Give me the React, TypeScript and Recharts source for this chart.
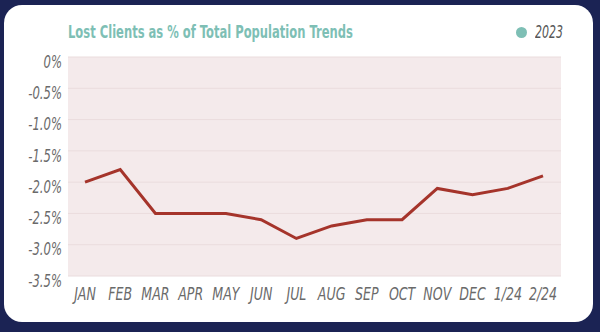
import { LineChart, Line, XAxis, YAxis, CartesianGrid } from 'recharts';

const months = ['JAN', 'FEB', 'MAR', 'APR', 'MAY', 'JUN', 'JUL', 'AUG', 'SEP', 'OCT', 'NOV', 'DEC', '1/24', '2/24'];
const lostPct2023 = [-2.0, -1.8, -2.5, -2.5, -2.5, -2.6, -2.9, -2.7, -2.6, -2.6, -2.1, -2.2, -2.1, -1.9];
const yTicks = [0, -0.5, -1, -1.5, -2, -2.5, -3, -3.5];

const FONT = "'DejaVu Sans Condensed', 'DejaVu Sans', sans-serif";
const TEAL = '#7ebfb5';
const LINE_RED = '#a5342b';
const LABEL_GREY = '#6a6a6a';

function formatPct(v: number): string {
  if (v === 0) return '0%';
  return `${v.toFixed(1)}%`;
}

// narrow italic labels, squeezed to look like the condensed face of the original
function YTick(props: { x?: number; y?: number; payload?: { value: number } }) {
  const { x = 0, y = 0, payload } = props;
  return (
    <text
      transform={`translate(${x},${y + 5}) scale(0.74,1)`}
      textAnchor="end"
      dominantBaseline="central"
      fill={LABEL_GREY}
      fontSize={17.5}
      fontStyle="italic"
      fontFamily={FONT}
      style={{ fontStretch: 'condensed' }}
    >
      {formatPct(payload?.value ?? 0)}
    </text>
  );
}

function XTick(props: { x?: number; y?: number; payload?: { value: string } }) {
  const { x = 0, y = 0, payload } = props;
  return (
    <text
      transform={`translate(${x},${y + 18}) scale(0.8,1)`}
      textAnchor="middle"
      dominantBaseline="central"
      fill={LABEL_GREY}
      fontSize={17.5}
      fontStyle="italic"
      fontFamily={FONT}
      style={{ fontStretch: 'condensed' }}
    >
      {payload?.value}
    </text>
  );
}

export default function App() {
  const data = months.map((m, i) => ({ month: m, value: lostPct2023[i] }));

  return (
    <div
      style={{
        position: 'fixed',
        left: 0,
        top: 0,
        width: 600,
        height: 332,
        background: '#1b2354',
        overflow: 'hidden',
        fontFamily: FONT,
        fontStretch: 'condensed',
      }}
    >
      {/* white card */}
      <div
        style={{
          position: 'absolute',
          left: 4,
          top: 5,
          width: 589,
          height: 317,
          background: '#ffffff',
          borderRadius: 18,
        }}
      />
      <div
        style={{
          position: 'absolute',
          left: 68,
          top: 24,
          color: TEAL,
          fontWeight: 700,
          fontSize: 17,
          lineHeight: '17px',
          whiteSpace: 'nowrap',
          transform: 'scaleX(0.755)',
          transformOrigin: 'left center',
        }}
      >
        Lost Clients as % of Total Population Trends
      </div>
      <div
        style={{
          position: 'absolute',
          left: 516,
          top: 24,
          display: 'flex',
          alignItems: 'center',
          lineHeight: '17px',
        }}
      >
        <span style={{ width: 11, height: 11, borderRadius: 6, background: TEAL, display: 'inline-block' }} />
        <span
          style={{
            marginLeft: 8,
            fontSize: 17,
            fontStyle: 'italic',
            color: '#555',
            display: 'inline-block',
            transform: 'scaleX(0.72)',
            transformOrigin: 'left center',
          }}
        >
          2023
        </span>
      </div>
      <div style={{ position: 'absolute', left: 0, top: 0 }}>
        <LineChart width={600} height={332} data={data} margin={{ top: 57, right: 39, left: 0, bottom: 26 }}>
          <CartesianGrid vertical={false} stroke="#eadcdd" fill="#f4eaeb" />
          <XAxis
            dataKey="month"
            height={30}
            padding={{ left: 17, right: 18 }}
            axisLine={false}
            tickLine={false}
            tickSize={0}
            tickMargin={0}
            interval={0}
            tick={<XTick />}
          />
          <YAxis
            width={68}
            domain={[-3.5, 0]}
            ticks={yTicks}
            axisLine={false}
            tickLine={false}
            tickSize={0}
            tickMargin={6}
            tick={<YTick />}
          />
          <Line
            dataKey="value"
            type="linear"
            stroke={LINE_RED}
            strokeWidth={3}
            dot={false}
            isAnimationActive={false}
          />
        </LineChart>
      </div>
    </div>
  );
}
